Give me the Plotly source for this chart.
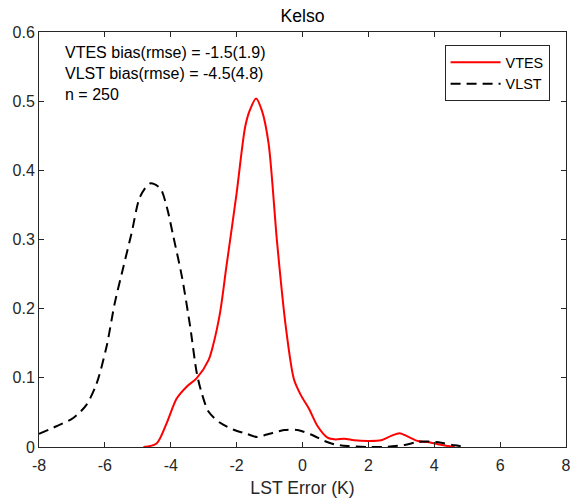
import plotly.graph_objects as go

# ---- data ----
vtes_x = [-4.83, -4.43, -4.12, -3.82, -3.51, -3.21, -2.85, -2.72, -2.5, -2.31, -2.0, -1.74, -1.59,
          -1.41, -1.23, -1.03, -0.77, -0.51, -0.26, -0.05, 0.2, 0.46, 0.76, 1.0, 1.27, 1.57, 1.98,
          2.39, 2.69, 2.95, 3.2, 3.5, 3.81, 4.11, 4.42, 4.62]
vtes_y = [0.0, 0.005, 0.035, 0.070, 0.0875, 0.0995, 0.126, 0.146, 0.195, 0.261, 0.367, 0.463, 0.488,
          0.504, 0.486, 0.439, 0.295, 0.175, 0.098, 0.075, 0.055, 0.030, 0.0135, 0.011, 0.012, 0.0097, 0.0087,
          0.0097, 0.016, 0.020, 0.015, 0.0087, 0.0072, 0.004, 0.0015, 0.0]

vlst_x = [-8.0, -7.47, -6.96, -6.56, -6.25, -5.95, -5.70, -5.44, -5.19, -4.93, -4.63, -4.32, -4.12,
          -3.92, -3.66, -3.41, -3.21, -3.06, -2.85, -2.5, -2.09, -1.69, -1.38, -1.08, -0.56, -0.15,
          0.26, 0.67, 0.96, 1.37, 1.98, 2.59, 3.1, 3.5, 3.81, 4.21, 4.62, 4.92]
vlst_y = [0.019, 0.030, 0.042, 0.061, 0.092, 0.145, 0.208, 0.26, 0.309, 0.362, 0.381, 0.374, 0.347,
          0.304, 0.246, 0.174, 0.107, 0.078, 0.051, 0.035, 0.025, 0.019, 0.0144, 0.018, 0.0245, 0.0245,
          0.018, 0.0087, 0.004, 0.0015, 0.0, 0.0005, 0.003, 0.0072, 0.008, 0.006, 0.0024, 0.0005]

x_ticks = [-8, -6, -4, -2, 0, 2, 4, 6, 8]
y_ticks = [0, 0.1, 0.2, 0.3, 0.4, 0.5, 0.6]
y_tick_labels = ["0", "0.1", "0.2", "0.3", "0.4", "0.5", "0.6"]

stats_lines = ["VTES bias(rmse) = -1.5(1.9)", "VLST bias(rmse) = -4.5(4.8)", "n = 250"]

FONT = "Liberation Sans, Arial, Helvetica, sans-serif"
AX = "#262626"

fig = go.Figure()
fig.add_trace(go.Scatter(x=vtes_x, y=vtes_y, mode="lines", name="VTES",
                         line=dict(color="#ff0000", width=2, shape="spline", smoothing=0.8)))
fig.add_trace(go.Scatter(x=vlst_x, y=vlst_y, mode="lines", name="VLST",
                         line=dict(color="#000000", width=2, dash="10px,6px", shape="spline", smoothing=0.8)))

W, H = 570, 503
L, R, T, B = 39, 4.3, 31.7, 55.7
pw, ph = W - L - R, H - T - B

for i, txt in enumerate(stats_lines):
    ycen = 52 + 21 * i
    fig.add_annotation(text=txt, xref="paper", yref="paper",
                       x=(63 - L) / pw, y=(H - B - ycen) / ph,
                       xanchor="left", yanchor="middle", showarrow=False,
                       font=dict(family=FONT, size=16, color="#000000"))

fig.update_layout(
    width=W, height=H,
    margin=dict(l=L, r=R, t=T, b=B, autoexpand=False),
    paper_bgcolor="white", plot_bgcolor="white",
    font=dict(family=FONT, color=AX),
    title=dict(text="Kelso", x=0.5, xref="paper", xanchor="center",
               y=1 - 16 / H, yref="container", yanchor="middle",
               font=dict(family=FONT, size=17.6, color="#000000")),
    showlegend=True,
    legend=dict(x=(549.3 - L) / pw, y=(H - B - 45) / ph, xanchor="right", yanchor="top",
                bgcolor="white", bordercolor=AX, borderwidth=1,
                font=dict(family=FONT, size=14.4, color="#000000"),
                itemwidth=50, tracegroupgap=0),
    xaxis=dict(range=[-8, 8], tickvals=x_ticks, ticktext=[str(v) for v in x_ticks],
               showgrid=False, zeroline=False, showline=True, linecolor=AX, linewidth=1,
               mirror="ticks", ticks="inside", ticklen=5, tickcolor=AX, tickwidth=1,
               ticklabeloverflow="allow", ticklabelstandoff=4,
               tickfont=dict(family=FONT, size=16, color=AX),
               title=dict(text="LST Error (K)", standoff=8,
                          font=dict(family=FONT, size=17.6, color=AX))),
    yaxis=dict(range=[0, 0.6], tickvals=y_ticks, ticktext=y_tick_labels,
               showgrid=False, zeroline=False, showline=True, linecolor=AX, linewidth=1,
               mirror="ticks", ticks="inside", ticklen=5, tickcolor=AX, tickwidth=1,
               ticklabeloverflow="allow",
               tickfont=dict(family=FONT, size=16, color=AX)),
)

fig.write_html("out.html", config={"displayModeBar": False},
               post_script="document.body.style.margin='0';")
